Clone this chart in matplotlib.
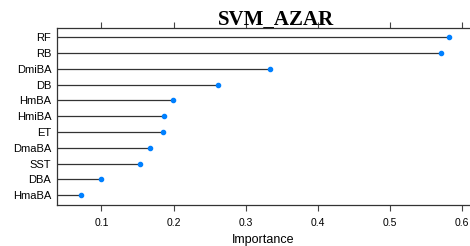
import matplotlib
matplotlib.use("Agg")
import matplotlib.pyplot as plt

features = ["RF", "RB", "DmiBA", "DB", "HmBA", "HmiBA", "ET", "DmaBA", "SST", "DBA", "HmaBA"]
importance = [0.581, 0.570, 0.334, 0.261, 0.199, 0.187, 0.186, 0.167, 0.153, 0.100, 0.072]
xticks = [0.1, 0.2, 0.3, 0.4, 0.5, 0.6]

fig = plt.figure(figsize=(4.70, 2.46), dpi=100)
ax = fig.add_axes([0.1206, 0.1667, 0.8915, 0.7183])

n = len(features)
ypos = [n - i for i in range(n)]
xmin = 0.038
for y, v in zip(ypos, importance):
    ax.plot([xmin, v], [y, y], color="#333333", lw=0.9, solid_capstyle="butt")
ax.plot(importance, ypos, "o", color="#0080ff", ms=3.0, mec="#0080ff", zorder=3)

ax.set_xlim(xmin, 0.6186)
ax.set_ylim(0.386, 11.57)
ax.set_yticks(ypos)
ax.set_yticklabels(features, fontfamily="Liberation Sans", fontsize=8)
ax.set_xticks(xticks)
ax.set_xticklabels([f"{t:g}" for t in xticks], fontfamily="Liberation Sans", fontsize=7.5)
ax.tick_params(axis="y", length=0, pad=4)
ax.tick_params(axis="x", which="both", top=True, bottom=True, direction="out",
               length=4, width=0.8, color="#444444", pad=5.5)
ax.tick_params(axis="x", labeltop=False)
for s in ax.spines.values():
    s.set_color("#333333")
    s.set_linewidth(0.9)
ax.spines["right"].set_visible(False)

fig.text(0.5596, 1 - 240 / 246, "Importance", fontfamily="Liberation Sans", fontsize=9,
         ha="center", va="center")
fig.text(0.588, 0.898, "SVM_AZAR", fontfamily="Liberation Serif", fontweight="bold",
         fontsize=15, ha="center", va="baseline")

fig.savefig("out.png", dpi=100)
